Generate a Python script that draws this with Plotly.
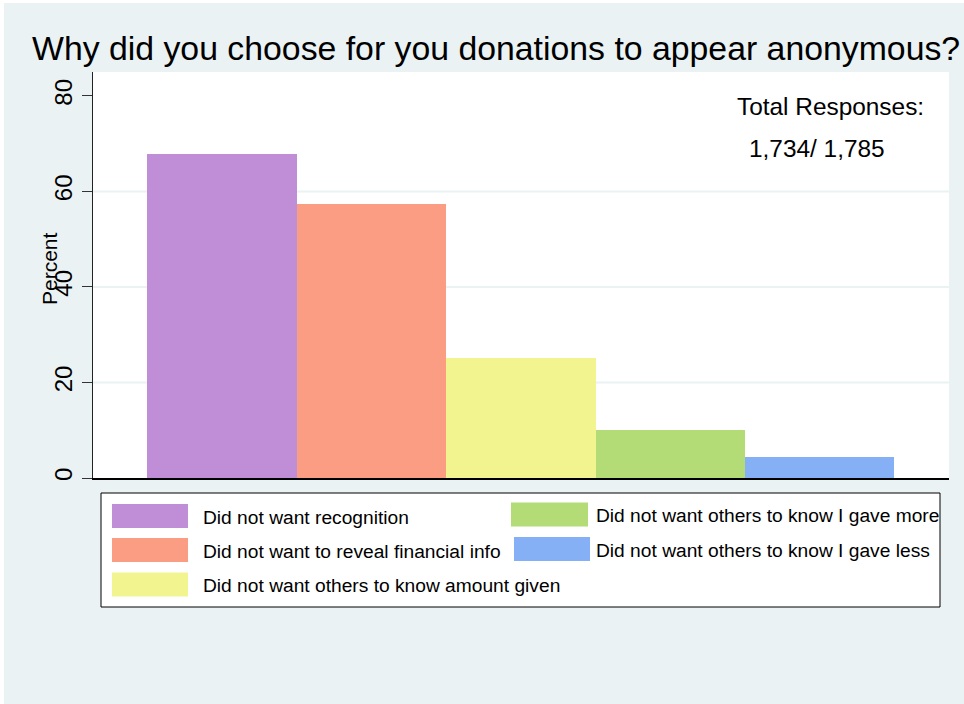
import plotly.graph_objects as go

# ---- data ----
categories = [
    "Did not want recognition",
    "Did not want to reveal financial info",
    "Did not want others to know amount given",
    "Did not want others to know I gave more",
    "Did not want others to know I gave less",
]
percent = [67.9, 57.3, 25.1, 10.1, 4.4]
colors = ["#C08ED6", "#FB9D83", "#F2F58F", "#B3DB76", "#86B0F5"]
y_ticks = [0, 20, 40, 60, 80]
grid_vals = [20, 40, 60]
title_text = "Why did you choose for you donations to appear anonymous?"
note_lines = ["Total Responses:", "1,734/ 1,785"]

W, H = 964, 704
L, R, T, B = 93, 15, 72, 226
PW, PH = W - L - R, H - T - B
BG = "#EAF2F3"
FONT = "Liberation Sans, Arial, sans-serif"


def px_x(x):
    return (x - L) / PW


def px_y(y):
    return (H - B - y) / PH


fig = go.Figure()
fig.add_trace(go.Bar(
    x=list(range(len(categories))),
    y=percent,
    width=1,
    marker=dict(color=colors, line=dict(width=0)),
    hovertext=categories,
    showlegend=False,
))

shapes = []
annotations = []

# outer white border strips
shapes.append(dict(type="rect", xref="paper", yref="paper", x0=px_x(0), x1=px_x(4),
                   y0=px_y(H), y1=px_y(0), fillcolor="white", line=dict(width=0), layer="below"))
shapes.append(dict(type="rect", xref="paper", yref="paper", x0=px_x(0), x1=px_x(W),
                   y0=px_y(3), y1=px_y(0), fillcolor="white", line=dict(width=0), layer="below"))

# gridlines (below bars)
for v in grid_vals:
    shapes.append(dict(type="line", xref="paper", yref="y", x0=0, x1=1, y0=v, y1=v,
                       line=dict(color=BG, width=2), layer="below"))

# legend box
shapes.append(dict(type="rect", xref="paper", yref="paper", x0=px_x(101), x1=px_x(940),
                   y0=px_y(607), y1=px_y(493), fillcolor="white",
                   line=dict(color="black", width=1)))

leg_pos = [
    (112, 188, 516, 201),
    (112, 188, 550, 201),
    (112, 188, 584.5, 201),
    (511, 588, 514.5, 594),
    (514, 590, 549, 594),
]
for i, (cat, col) in enumerate(zip(categories, colors)):
    sx0, sx1, cy, tx = leg_pos[i]
    shapes.append(dict(type="rect", xref="paper", yref="paper", x0=px_x(sx0), x1=px_x(sx1),
                       y0=px_y(cy + 12), y1=px_y(cy - 12), fillcolor=col,
                       line=dict(width=0)))
    annotations.append(dict(xref="paper", yref="paper", x=px_x(tx), y=px_y(cy + 1),
                            text=cat, showarrow=False, xanchor="left", yanchor="middle",
                            font=dict(size=19.2, color="black", family=FONT)))

# title
annotations.append(dict(xref="paper", yref="paper", x=px_x(496), y=px_y(48), text=title_text,
                        showarrow=False, xanchor="center", yanchor="middle",
                        font=dict(size=33.8, color="black", family=FONT)))
# y title
annotations.append(dict(xref="paper", yref="paper", x=px_x(49), y=px_y(269), text="Percent",
                        showarrow=False, xanchor="center", yanchor="middle", textangle=-90,
                        font=dict(size=21, color="black", family=FONT)))
# note
annotations.append(dict(xref="paper", yref="paper", x=px_x(830), y=px_y(107), text=note_lines[0],
                        showarrow=False, xanchor="center", yanchor="middle",
                        font=dict(size=24.4, color="black", family=FONT)))
annotations.append(dict(xref="paper", yref="paper", x=px_x(817), y=px_y(148), text=note_lines[1],
                        showarrow=False, xanchor="center", yanchor="middle",
                        font=dict(size=24.4, color="black", family=FONT)))

fig.update_layout(
    width=W, height=H,
    margin=dict(l=L, r=R, t=T, b=B, pad=0),
    paper_bgcolor=BG,
    plot_bgcolor="white",
    font=dict(family=FONT, color="black"),
    shapes=shapes,
    annotations=annotations,
    bargap=0,
    xaxis=dict(range=[-0.864, 4.866], showticklabels=False, ticks="", showgrid=False,
               zeroline=False, showline=True, linecolor="black", linewidth=1.5),
    yaxis=dict(range=[0, 85], tickvals=y_ticks, ticktext=[str(v) for v in y_ticks],
               tickangle=-90, ticks="outside", ticklen=10, tickcolor="#333333", tickwidth=1,
               tickfont=dict(size=24, color="black", family=FONT),
               showgrid=False, zeroline=False, showline=True, linecolor="#222222", linewidth=1),
)

fig.write_html("out.html", config={"displayModeBar": False},
               post_script="document.body.style.margin='0';document.body.style.overflow='hidden';")
